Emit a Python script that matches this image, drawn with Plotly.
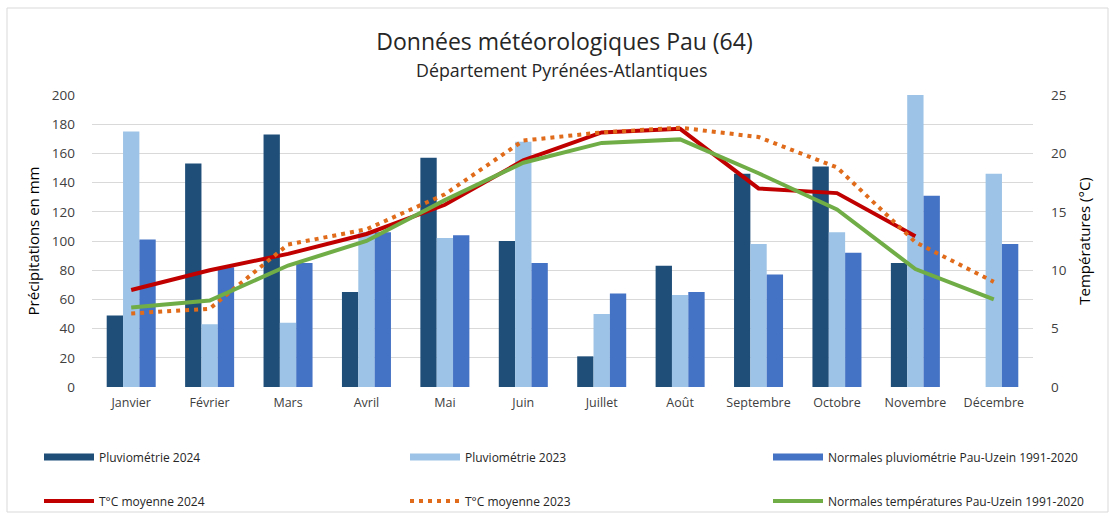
import plotly.graph_objects as go

months = ["Janvier", "Février", "Mars", "Avril", "Mai", "Juin", "Juillet",
          "Août", "Septembre", "Octobre", "Novembre", "Décembre"]

pluvio_2024 = [49, 153, 173, 65, 157, 100, 21, 83, 146, 151, 85, None]
pluvio_2023 = [175, 43, 44, 106, 102, 168, 50, 63, 98, 106, 200, 146]
pluvio_normales = [101, 82, 85, 106, 104, 85, 64, 65, 77, 92, 131, 98]

temp_2024 = [8.3, 10.0, 11.4, 13.1, 15.6, 19.4, 21.8, 22.1, 17.0, 16.6, 12.9, None]
temp_2023 = [6.3, 6.7, 12.2, 13.5, 16.5, 21.1, 21.8, 22.2, 21.4, 18.8, 12.4, 9.0]
temp_normales = [6.8, 7.4, 10.4, 12.5, 16.0, 19.2, 20.9, 21.2, 18.3, 15.2, 10.1, 7.5]

C_P24 = "#1F4E79"
C_P23 = "#9DC3E6"
C_PN = "#4472C4"
C_T24 = "#C00000"
C_T23 = "#E06B1A"
C_TN = "#70AD47"

FONT = "Open Sans"
W, H = 1113, 515
L, R, T, B = 92, 80, 95, 128
PW, PH = W - L - R, H - T - B

COL_X = [39, 405, 768]
ROW_Y = [457, 501]

fig = go.Figure()

bars = [("Pluviométrie 2024", pluvio_2024, C_P24),
        ("Pluviométrie 2023", pluvio_2023, C_P23),
        ("Normales pluviométrie Pau-Uzein 1991-2020", pluvio_normales, C_PN)]
lines = [("T°C moyenne 2024", temp_2024, C_T24, "solid", 4),
         ("T°C moyenne 2023", temp_2023, C_T23, "4px,5px", 4),
         ("Normales températures Pau-Uzein 1991-2020", temp_normales, C_TN, "solid", 4)]

for name, vals, col in bars:
    fig.add_trace(go.Bar(x=months, y=vals, name=name, marker_color=col,
                         marker_line_width=0, showlegend=False, legendgroup=name,
                         yaxis="y"))
for i, (name, vals, col) in enumerate(bars):
    fig.add_trace(go.Scatter(x=[None], y=[None], mode="lines", name=name,
                             line=dict(color=col, width=7), legendgroup=name,
                             legend="legend" if i == 0 else f"legend{i + 1}",
                             yaxis="y"))
for i, (name, vals, col, dash, w) in enumerate(lines):
    fig.add_trace(go.Scatter(x=months, y=vals, name=name, mode="lines",
                             line=dict(color=col, width=w, dash=dash),
                             yaxis="y2", legend=f"legend{i + 4}",
                             connectgaps=False))

legend_common = dict(orientation="h", xref="container", yref="container",
                     yanchor="middle", xanchor="left", itemwidth=50,
                     font=dict(family=FONT, size=12, color="#262626"),
                     bgcolor="rgba(0,0,0,0)")
legends = {}
for r in range(2):
    for c in range(3):
        k = r * 3 + c
        key = "legend" if k == 0 else f"legend{k + 1}"
        legends[key] = dict(legend_common, x=COL_X[c] / W, y=1 - ROW_Y[r] / H)

fig.update_layout(
    width=W, height=H,
    margin=dict(l=L, r=R, t=T, b=B),
    paper_bgcolor="white", plot_bgcolor="white",
    font=dict(family=FONT, color="#404040"),
    barmode="group", bargap=0.375, bargroupgap=0,
    title=dict(text="Données météorologiques Pau (64)", x=(377 + 752) / 2 / W,
               xanchor="center", y=1 - 42 / H, yanchor="middle", yref="container",
               font=dict(family=FONT, size=23, color="#262626")),
    xaxis=dict(type="category", showgrid=False, showline=False, ticks="",
               tickfont=dict(family=FONT, size=12.5, color="#404040"),
               ticklabelstandoff=6),
    yaxis=dict(range=[0, 200], dtick=20, showgrid=True, gridcolor="#D9D9D9",
               gridwidth=1, zeroline=False, showline=False, ticks="",
               tickfont=dict(family=FONT, size=13.5, color="#404040"),
               ticklabelstandoff=16,
               title=dict(text="Précipitations en mm",
                          font=dict(family=FONT, size=15, color="#000000"),
                          standoff=8)),
    yaxis2=dict(range=[0, 25], dtick=5, overlaying="y", side="right",
                showgrid=False, zeroline=False, showline=False, ticks="",
                tickfont=dict(family=FONT, size=13.5, color="#404040"),
                ticklabelstandoff=17,
                title=dict(text="Températures (°C)",
                           font=dict(family=FONT, size=15, color="#000000"),
                           standoff=13)),
    annotations=[dict(text="Département Pyrénées-Atlantiques", xref="paper",
                      yref="paper", x=((415 + 708) / 2 - L) / PW,
                      y=(H - B - 70) / PH, xanchor="center",
                      yanchor="middle", showarrow=False,
                      font=dict(family=FONT, size=17.8, color="#262626"))],
    shapes=[dict(type="rect", xref="paper", yref="paper",
                 x0=(7 - L) / PW, x1=(1108 - L) / PW,
                 y0=(H - B - 512) / PH, y1=(H - B - 8) / PH,
                 line=dict(color="#D9D9D9", width=1), fillcolor="rgba(0,0,0,0)",
                 layer="below")],
    **legends,
)

fig.write_html("out.html", config={"displayModeBar": False},
               post_script="document.body.style.margin='0';")
